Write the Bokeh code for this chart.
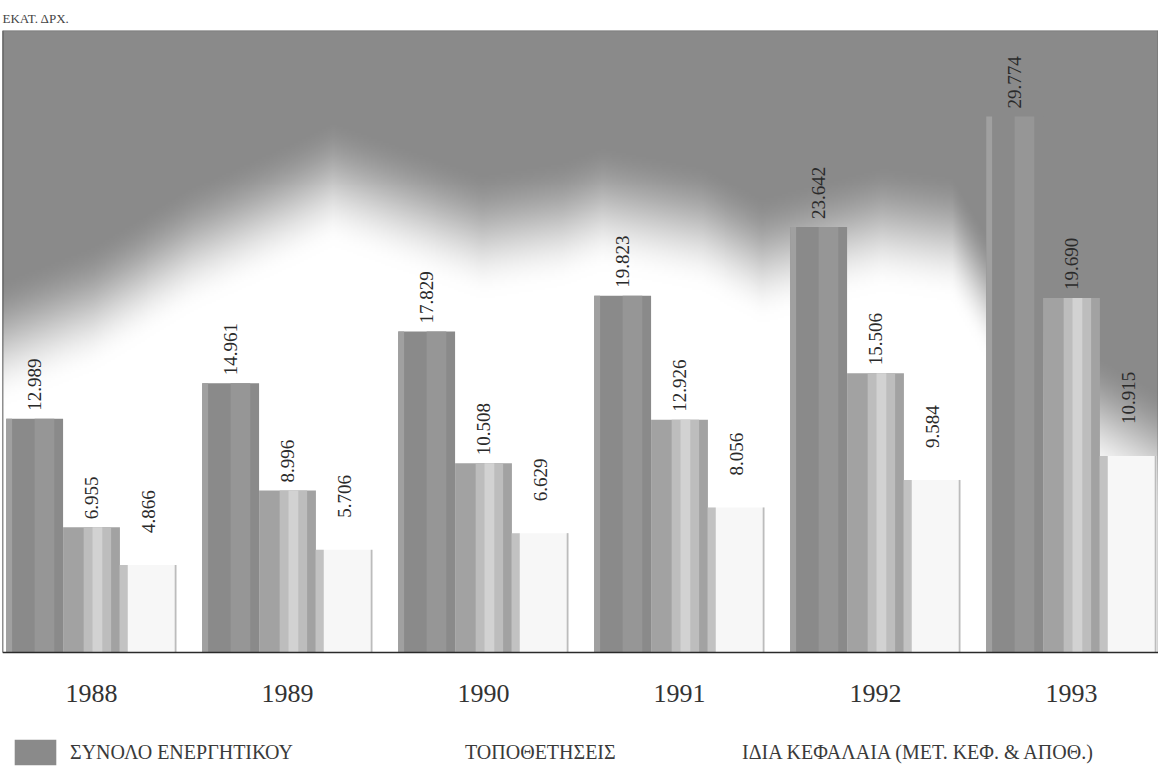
import numpy as np
from bokeh.plotting import figure
from bokeh.models import (ColumnDataSource, LabelSet, Legend, LegendItem,
                          Range1d, Span)
from bokeh.core.properties import value
from bokeh.embed import file_html
from bokeh.resources import INLINE

# ---------------- data ----------------
years = ["1988", "1989", "1990", "1991", "1992", "1993"]
total_assets = [12989, 14961, 17829, 19823, 23642, 29774]   # ΣΥΝΟΛΟ ΕΝΕΡΓΗΤΙΚΟΥ
placements = [6955, 8996, 10508, 12926, 15506, 19690]       # ΤΟΠΟΘΕΤΗΣΕΙΣ
own_funds = [4866, 5706, 6629, 8056, 9584, 10915]           # ΙΔΙΑ ΚΕΦΑΛΑΙΑ
series_names = ["ΣΥΝΟΛΟ ΕΝΕΡΓΗΤΙΚΟΥ", "ΤΟΠΟΘΕΤΗΣΕΙΣ",
                "ΙΔΙΑ ΚΕΦΑΛΑΙΑ (ΜΕΤ. ΚΕΦ. & ΑΠΟΘ.)"]
unit_label = "ΕΚΑΤ. ΔΡΧ."


def fmt(v):
    return f"{v:,}".replace(",", ".")


# ---------------- layout ----------------
W, H = 1158, 768
BL, BT, BR = 2, 30, 0
frame_w = W - BL - BR
plot_px = 622                      # height of the chart area above the baseline
below_px = H - BT - plot_px        # room under the baseline for years + legend
group_px = 196.0
x0 = -89.0 / group_px
x1 = x0 + frame_w / group_px
y1 = 34550
PX = y1 / plot_px                  # data units per pixel
y0 = -below_px * PX

FONT = "Liberation Serif"

p = figure(width=W, height=H, x_range=Range1d(x0, x1), y_range=Range1d(y0, y1),
           output_backend="svg", toolbar_location=None,
           min_border_left=BL, min_border_right=BR, min_border_top=BT,
           min_border_bottom=0, background_fill_color="white",
           border_fill_color="white")

p.title.text = unit_label
p.title.text_font = FONT
p.title.text_font_size = "13px"
p.title.text_font_style = "normal"
p.title.text_color = "#444444"
p.title.align = "left"

p.xaxis.visible = False
p.yaxis.visible = False
p.grid.visible = False
p.outline_line_color = None

# ---------------- cloudy gradient background ----------------
gw, gh = 580, 312
X = np.linspace(0, frame_w, gw)
Yt = np.linspace(0, plot_px, gh)           # px from top of chart area
ax = [0, 90, 190, 290, 330, 400, 480, 560, 600, 700, 760, 880, 950, 1000, 1060, 1156]
ab = [345, 310, 250, 205, 185, 210, 238, 225, 210, 230, 262, 230, 240, 325, 400, 455]
b = np.interp(X, ax, ab)
XX, YY = np.meshgrid(X, Yt)
BB2 = np.broadcast_to(b, XX.shape)
t = np.clip((YY - (BB2 - 100)) / 130.0, 0, 1)
t = t * t * (3 - 2 * t)
g = 138 + (255 - 138) * t
g = np.flipud(g).astype(np.uint8)
img = np.empty((gh, gw), dtype=np.uint32)
view = img.view(dtype=np.uint8).reshape((gh, gw, 4))
view[..., 0] = g
view[..., 1] = g
view[..., 2] = g
view[..., 3] = 255
p.image_rgba(image=[img], x=x0, y=0, dw=x1 - x0, dh=y1)

# frame lines (left, top, right)
p.segment(x0=[x0, x0, x1], y0=[0, y1, 0], x1=[x0, x1, x1], y1=[y1, y1, y1],
          line_color=["#1e1e1e", "#7a7a7a", "#555555"], line_width=1.5)

# ---------------- bars ----------------
idx = np.arange(len(years), dtype=float)
off = 0.29
bw = 0.29
src = ColumnDataSource(dict(
    xd=idx - off, xm=idx, xl=idx + off,
    total=total_assets, plac=placements, own=own_funds,
    total_lbl=[fmt(v) for v in total_assets],
    plac_lbl=[fmt(v) for v in placements],
    own_lbl=[fmt(v) for v in own_funds],
))

r_dark = p.vbar(x="xd", top="total", width=bw, source=src,
                fill_color="#8a8a8a", line_color=None)
p.vbar(x=idx - off - bw / 2 + 0.015, top=total_assets, width=0.03,
       fill_color="#a0a0a0", line_color=None)
p.vbar(x=idx - off + 0.05, top=total_assets, width=0.10,
       fill_color="#969696", line_color=None)

r_med = p.vbar(x="xm", top="plac", width=bw, source=src,
               fill_color="#a2a2a2", line_color=None)
p.vbar(x=idx + 0.03, top=placements, width=0.14,
       fill_color="#bdbdbd", line_color=None)
p.vbar(x=idx + 0.03, top=placements, width=0.05,
       fill_color="#d2d2d2", line_color=None)

r_light = p.vbar(x="xl", top="own", width=bw, source=src,
                 fill_color="#f7f7f7", line_color=None)
p.vbar(x=idx + off - bw / 2 + 0.02, top=own_funds, width=0.04,
       fill_color="#c2c2c2", line_color=None)
p.vbar(x=idx + off + bw / 2 - 0.006, top=own_funds, width=0.009,
       fill_color="#bcbcbc", line_color=None)

p.add_layout(Span(location=0, dimension="width", line_color="#2a2a2a",
                  line_width=1.5))

# ---------------- value labels ----------------
for xcol, ycol, lcol, yoff in [("xd", "total", "total_lbl", 8),
                               ("xm", "plac", "plac_lbl", 8),
                               ("xl", "own", "own_lbl", 32)]:
    ls = LabelSet(x=xcol, y=ycol, text=lcol, source=src, angle=90,
                  angle_units="deg", text_align="left",
                  text_baseline="middle", y_offset=yoff,
                  text_font=value(FONT), text_font_size=value("19px"),
                  text_color="#2a2a2a")
    p.add_layout(ls)

# ---------------- year labels ----------------
p.text(x=idx, y=np.full(len(years), -41 * PX), text=years,
       text_align="center", text_baseline="middle",
       text_font=value(FONT), text_font_size="26px", text_color="#333333")

# ---------------- legends ----------------
r_proxy_line = p.line(x=[], y=[], line_color="#d6d6d6", line_width=2)
r_proxy_box = p.vbar(x=[], top=[], width=bw, fill_color="#fbfbfb",
                     line_color=None)


def make_legend(label, rend, loc, gwid, standoff):
    return Legend(items=[LegendItem(label=label, renderers=[rend])],
                  location=loc, orientation="horizontal",
                  background_fill_alpha=0, border_line_color=None,
                  padding=0, margin=0, spacing=0,
                  glyph_width=gwid, glyph_height=32,
                  label_standoff=standoff, label_text_font=FONT,
                  label_text_font_size="20px", label_text_color="#3a3a3a")


p.add_layout(make_legend(series_names[0], r_dark, (7, 0), 52, 9))
p.add_layout(make_legend(series_names[1], r_proxy_line, (392, 0), 46, 25))
p.add_layout(make_legend(series_names[2], r_proxy_box, (669, 0), 46, 25))

open("out.html", "w").write(file_html(p, INLINE))
